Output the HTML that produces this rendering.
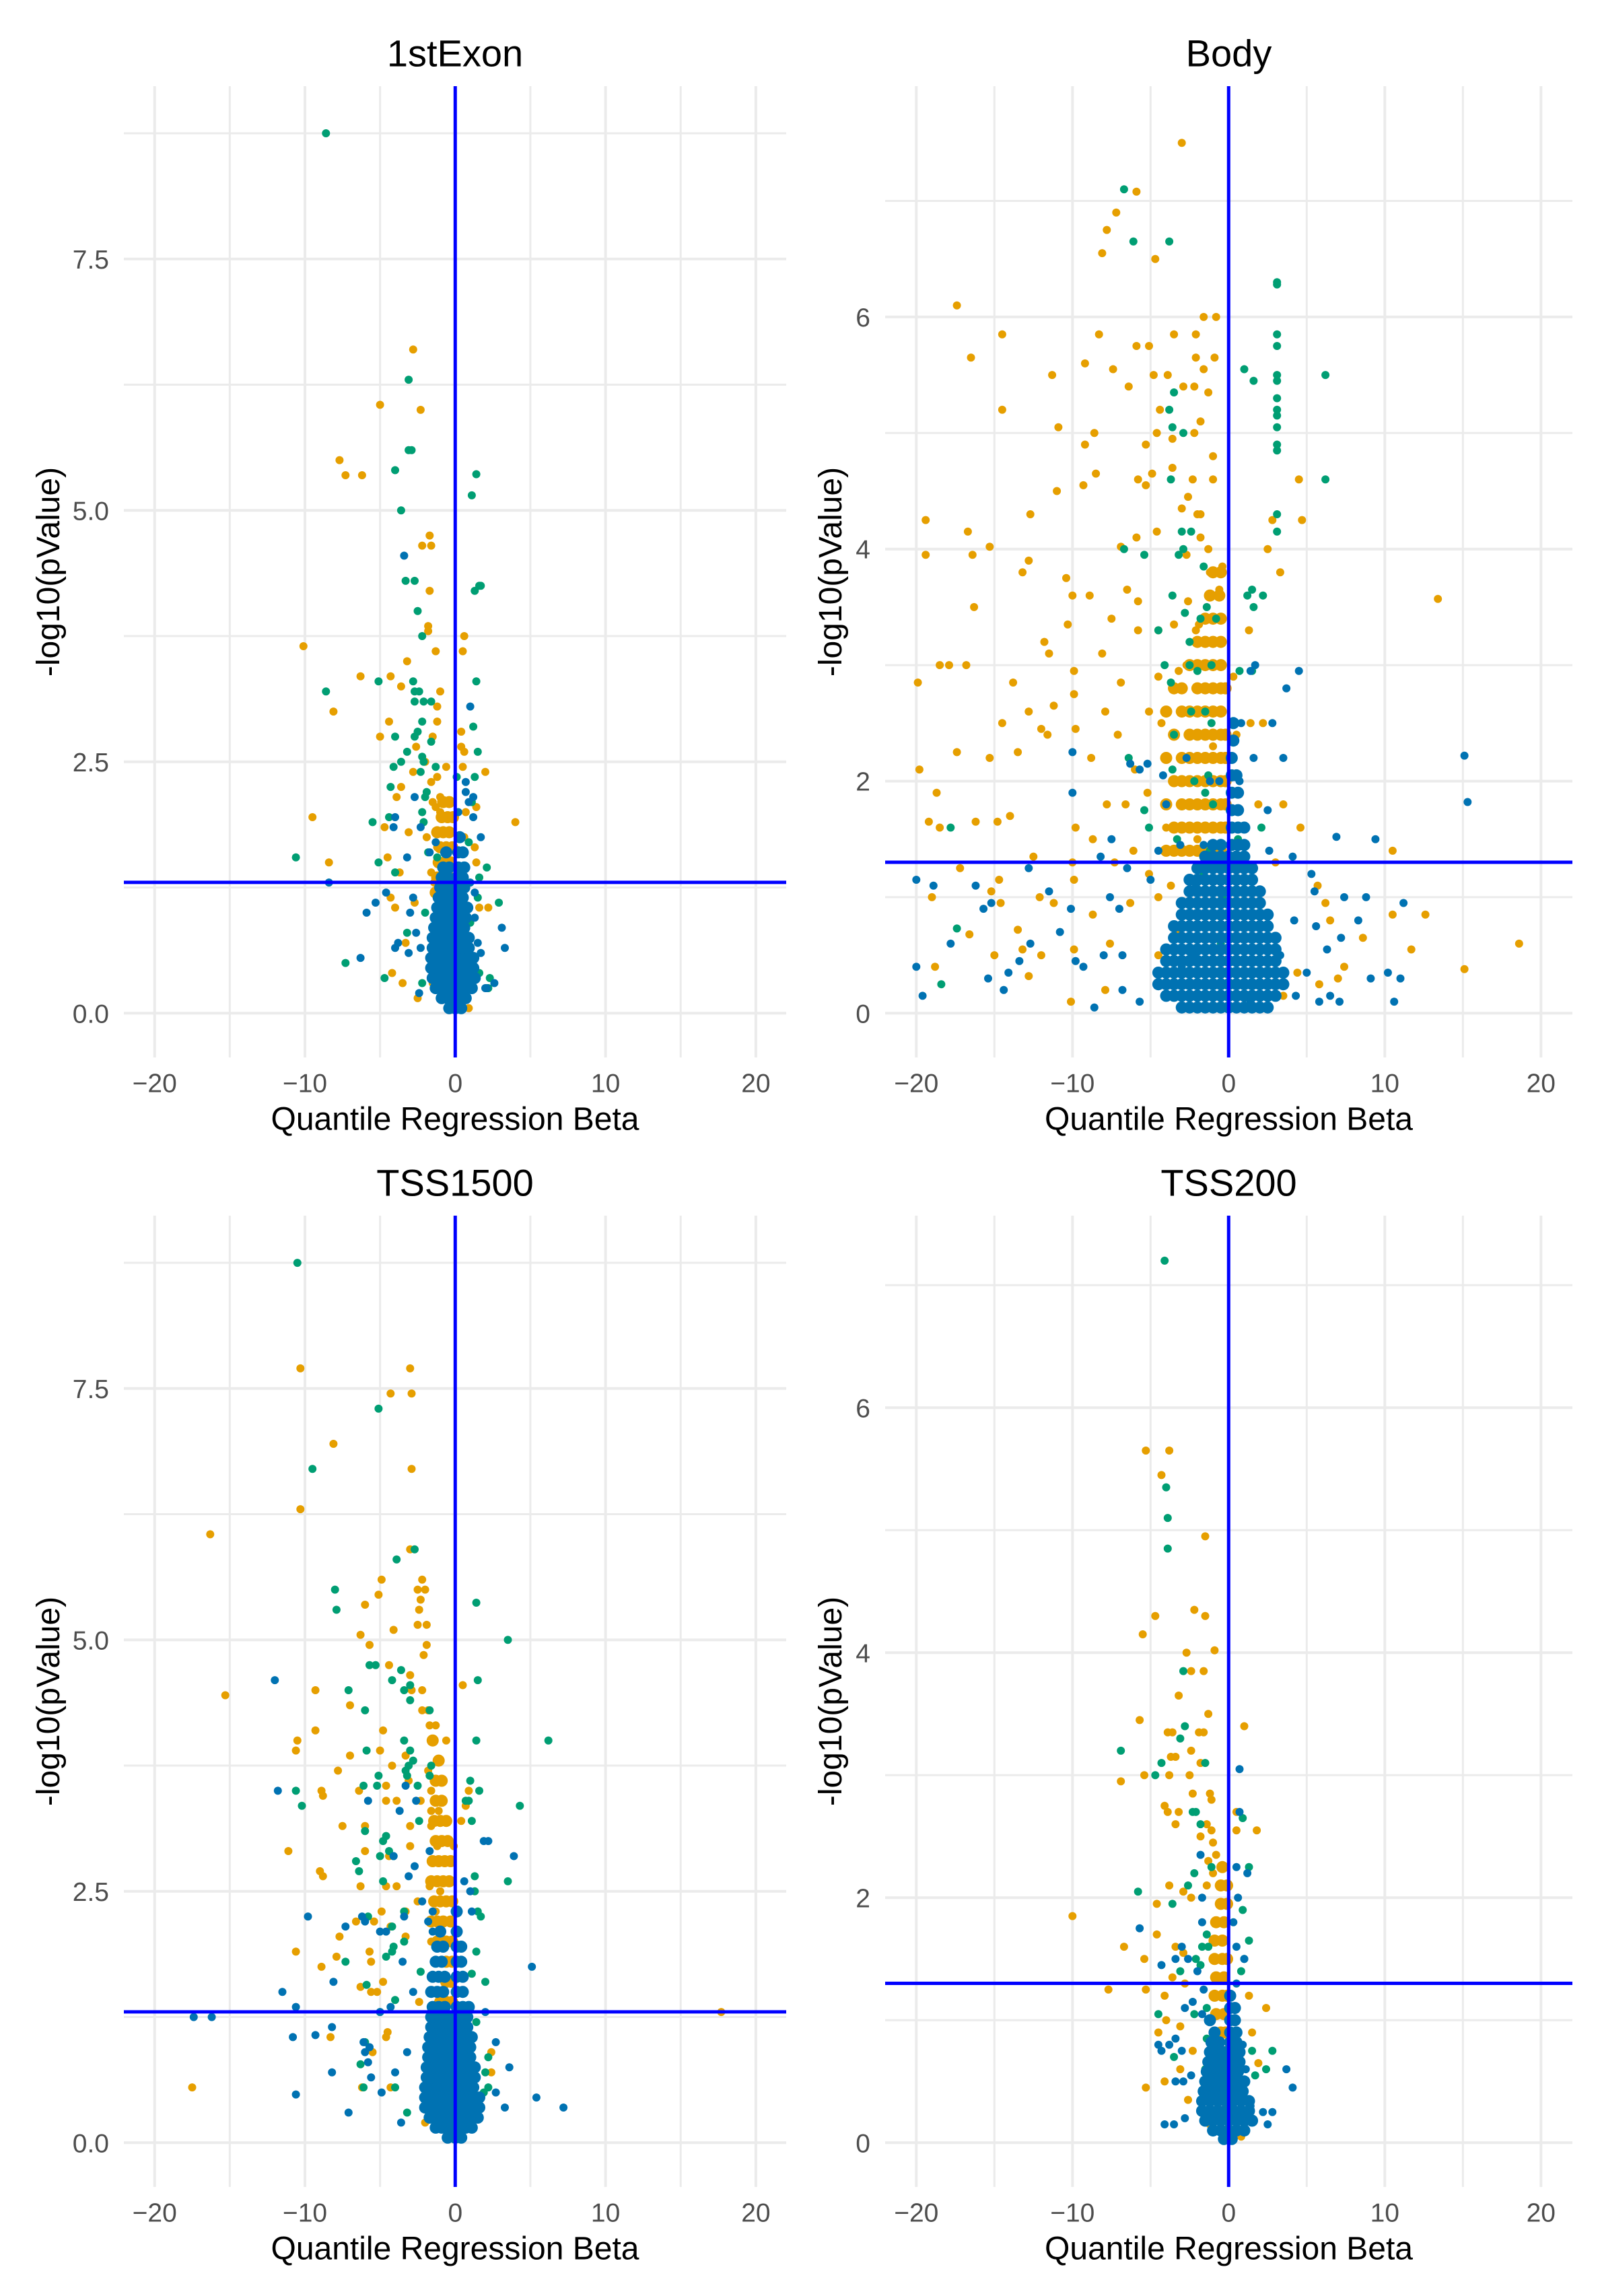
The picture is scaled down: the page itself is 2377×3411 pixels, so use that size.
<!DOCTYPE html>
<html><head><meta charset="utf-8">
<style>
html,body{margin:0;padding:0;background:#fff;}
svg{display:block;font-family:"Liberation Sans",Arial,sans-serif;}
</style></head>
<body>
<svg id="chart" width="2377" height="3411" viewBox="0 0 2377 3411" xmlns="http://www.w3.org/2000/svg">
<rect x="0" y="0" width="2377" height="3411" fill="#ffffff"/>
</svg>
<script>
// ---------------- data: [beta, -log10(p)] ----------------
const xTicks = [-20, -10, 0, 10, 20];
const xTickLabels = ["\u221220", "\u221210", "0", "10", "20"];
const xMinor = [-15, -5, 5, 15];
const yTicksA = [0, 2.5, 5, 7.5];
const yTickLabelsA = ["0.0", "2.5", "5.0", "7.5"];
const yMinorA = [1.25, 3.75, 6.25, 8.75];
const yTicksB = [0, 2, 4, 6];
const yTickLabelsB = ["0", "2", "4", "6"];
const yMinorB = [1, 3, 5, 7];
const pThreshold = 1.301;

// ---- 1stExon ----
const exonOrange = [[-2.8,6.6],[-5.0,6.05],[-2.3,6.0],[-7.7,5.5],[-7.3,5.35],[-6.2,5.35],[-1.7,4.75],[-2.2,4.65],[-1.6,4.65],[-1.7,4.2],[-1.8,3.85],[-1.8,3.8],[0.6,3.75],[0.5,3.6],[-1.3,3.6],[-3.2,3.5],[-10.1,3.65],[-6.3,3.35],[-4.3,3.35],[-3.6,3.25],[-1.0,3.2],[-1.2,3.05],[-8.1,3.0],[-4.4,2.9],[-1.2,2.9],[-5.0,2.75],[0.4,2.8],[0.4,2.65],[0.6,2.6],[-2.6,2.65],[-1.5,2.75],[-2.0,2.5],[0.5,2.45],[-0.6,2.45],[2.0,2.4],[-2.8,2.4],[-1.2,2.35],[-1.6,2.3],[-3.9,2.15],[-3.6,2.25],[-1.5,2.1],[-1.3,2.05],[-1.0,2.0],[-1.0,2.15],[0.7,2.0],[1.4,2.05],[-9.5,1.95],[4.0,1.9],[-4.7,1.85],[-3.1,1.8],[-1.9,1.75],[-1.2,1.65],[0.6,1.75],[-4.5,1.55],[-8.4,1.5],[-3.7,1.4],[-1.6,1.4],[-1.4,1.3],[-4.3,1.15],[-4.0,1.05],[-2.7,1.1],[1.6,1.05],[2.2,1.05],[-3.3,0.7],[-4.2,0.4],[-3.5,0.3],[-2.5,0.15],[0.9,0.05],[-1.5,0.3],[1.3,1.65],[1.4,1.5]];
const exonOrangeCore = [[-1.3,1.2],[-0.9,1.2],[-0.5,1.2],[-0.15,1.2],[-1.2,1.35],[-0.8,1.35],[-0.4,1.35],[-1.1,1.5],[-0.7,1.5],[-0.3,1.5],[-1.0,1.65],[-0.6,1.65],[-0.2,1.65],[-1.2,1.8],[-0.8,1.8],[-0.4,1.8],[-0.9,1.95],[-0.5,1.95],[-0.15,1.95],[-0.8,2.1],[-0.4,2.1]];
const exonGreen = [[-8.6,8.75],[-3.1,6.3],[-3.1,5.6],[-2.9,5.6],[-4.0,5.4],[1.4,5.36],[1.1,5.15],[-3.6,5.0],[-3.3,4.3],[-2.7,4.3],[1.3,4.2],[1.6,4.25],[1.7,4.25],[-2.5,4.0],[-2.2,3.75],[-5.1,3.3],[-8.6,3.2],[-2.8,3.3],[-2.7,3.2],[-2.4,3.2],[-2.7,3.1],[-2.1,3.1],[-1.6,3.1],[1.4,3.3],[1.2,2.85],[-2.2,2.9],[-2.5,2.8],[-2.7,2.75],[-4.0,2.75],[-1.6,2.7],[-2.2,2.55],[-3.2,2.6],[-2.1,2.5],[-1.3,2.45],[-3.6,2.5],[-4.1,2.45],[-2.3,2.4],[1.5,2.6],[0.1,2.35],[1.3,2.35],[-4.3,2.25],[-1.9,2.2],[-2.0,2.15],[-2.2,2.0],[-2.1,1.9],[-4.4,1.95],[-5.5,1.9],[-10.6,1.55],[-5.1,1.5],[-4.0,1.4],[1.1,2.1],[0.9,1.7],[2.1,1.45],[1.6,1.35],[1.5,1.15],[2.9,1.1],[-1.2,1.55],[-1.8,1.6],[-7.3,0.5],[-4.7,0.35],[-2.2,0.3],[1.3,0.55],[1.6,0.4],[2.2,0.25],[1.0,0.9],[-1.0,1.25],[-2.0,1.0],[-3.2,0.8],[2.3,0.35]];
const exonBlueCore = [[-0.4,0.05],[0,0.05],[0.4,0.05],[-0.9,0.15],[-0.5,0.15],[-0.1,0.15],[0.3,0.15],[0.7,0.15],[-1.3,0.25],[-0.9,0.25],[-0.5,0.25],[-0.1,0.25],[0.3,0.25],[0.7,0.25],[1.1,0.25],[-1.5,0.35],[-1.1,0.35],[-0.7,0.35],[-0.3,0.35],[0.1,0.35],[0.5,0.35],[0.9,0.35],[1.3,0.35],[-1.6,0.45],[-1.2,0.45],[-0.8,0.45],[-0.4,0.45],[0,0.45],[0.4,0.45],[0.8,0.45],[1.2,0.45],[-1.6,0.55],[-1.2,0.55],[-0.8,0.55],[-0.4,0.55],[0,0.55],[0.4,0.55],[0.8,0.55],[1.2,0.55],[-1.5,0.65],[-1.1,0.65],[-0.7,0.65],[-0.3,0.65],[0.1,0.65],[0.5,0.65],[0.9,0.65],[-1.5,0.75],[-1.1,0.75],[-0.7,0.75],[-0.3,0.75],[0.1,0.75],[0.5,0.75],[0.9,0.75],[-1.4,0.85],[-1.0,0.85],[-0.6,0.85],[-0.2,0.85],[0.2,0.85],[0.6,0.85],[-1.3,0.95],[-0.9,0.95],[-0.5,0.95],[-0.1,0.95],[0.3,0.95],[0.7,0.95],[-1.2,1.05],[-0.8,1.05],[-0.4,1.05],[0,1.05],[0.4,1.05],[0.8,1.05],[-1.1,1.15],[-0.7,1.15],[-0.3,1.15],[0.1,1.15],[0.5,1.15],[-1.0,1.25],[-0.6,1.25],[-0.2,1.25],[0.2,1.25],[0.6,1.25],[-0.9,1.35],[-0.5,1.35],[0.1,1.35],[0.5,1.35],[-0.8,1.45],[-0.4,1.45],[0.2,1.45],[0.6,1.45],[-0.6,1.6],[0.2,1.6],[0.5,1.6],[0.3,1.75]];
const exonBlue = [[-3.4,4.55],[1.0,3.05],[1.2,2.15],[0.9,2.1],[1.2,1.95],[0.7,2.3],[0.7,2.2],[0.2,2.0],[1.7,1.75],[-2.7,2.15],[-4.0,1.95],[-4.1,1.85],[-2.3,1.85],[-1.7,1.6],[-1.3,1.7],[-3.2,1.55],[-8.4,1.3],[-4.6,1.2],[-2.8,1.15],[-5.3,1.1],[-5.9,1.0],[-3.0,1.0],[-2.6,0.8],[-3.8,0.7],[-6.3,0.55],[-4.0,0.65],[-3.1,0.6],[-2.3,0.65],[3.1,0.85],[3.3,0.65],[2.6,0.3],[2.1,0.25],[1.7,0.6],[1.5,0.7],[2.0,0.25],[-2.4,0.2],[1.3,0.95],[1.0,1.3],[1.3,1.2]];

// ---- Body ----
const bodyOrange = [[-3,7.5],[-5.9,7.08],[-7.2,6.9],[-7.8,6.75],[-8.1,6.55],[-4.7,6.5],[-17.4,6.1],[-14.5,5.85],[-16.5,5.65],[-11.3,5.5],[-14.5,5.2],[-10.9,5.05],[-8.3,5.85],[-3.5,5.85],[-2.1,5.85],[-5.9,5.75],[-5.1,5.75],[-2.1,5.65],[-9.2,5.6],[-7.4,5.55],[-4.8,5.5],[-6.4,5.4],[-3.9,5.5],[-2.2,5.4],[-4.4,5.2],[-1.6,5.55],[-2.2,5.0],[-5.3,4.9],[-4.6,5.0],[-8.6,5.0],[-9.2,4.9],[-3.6,4.95],[-3.6,4.7],[-3,4.35],[-4.9,4.65],[-2.6,4.45],[-5.3,4.55],[-2,4.3],[-1.8,4.3],[-1.8,4.1],[-1.3,4.0],[-5.9,4.1],[-5.8,4.6],[-8.5,4.65],[-9.3,4.55],[-11,4.5],[-12.7,4.3],[-16.7,4.15],[-16.4,3.95],[-19.4,4.25],[-19.4,3.95],[-15.3,4.02],[-13.2,3.8],[-12.8,3.9],[-10.4,3.75],[-6.9,4.02],[-4.6,4.15],[-2.7,3.95],[-1.2,3.8],[-0.4,3.85],[-8.9,3.6],[-6.5,3.65],[-2.6,3.55],[-1.9,3.35],[-0.6,3.65],[13.4,3.57],[-16.3,3.5],[-10,3.6],[-10.3,3.35],[-7.5,3.4],[-5.8,3.3],[-4.5,3.3],[-3.5,3.35],[-2.1,3.3],[-1.2,3.4],[-11.5,3.1],[-11.8,3.2],[-9.9,2.95],[-8.1,3.1],[-4.5,2.9],[-3.2,2.95],[-1.5,3.0],[-2.7,3.0],[-2.0,2.8],[-0.6,2.8],[0.3,2.9],[-17.9,3.0],[-18.5,3.0],[-16.8,3.0],[-19.9,2.85],[-13.8,2.85],[-12.8,2.6],[-9.9,2.75],[-7.9,2.6],[-6.9,2.85],[-5.1,2.6],[-7.1,2.4],[-9.8,2.45],[-11.6,2.4],[-13.5,2.25],[-14.5,2.5],[-15.3,2.2],[-17.4,2.25],[-16.2,1.65],[-18.7,1.9],[-19.2,1.65],[-18.5,1.6],[-17.2,1.25],[-14.8,1.65],[-14,1.7],[-12.5,1.35],[-9.8,1.6],[-9.9,1.15],[-8.7,1.5],[-7.8,1.8],[-6.6,1.8],[-6.1,1.4],[-5.2,1.9],[-3.2,2.0],[-5.1,1.2],[-7.3,1.3],[-10,1.3],[-14.7,1.15],[-15.2,1.05],[-16.6,0.68],[-13.5,0.72],[-8.7,0.85],[-6.3,0.95],[-7.6,0.6],[-9.9,0.55],[-15,0.5],[-12,0.5],[-10.1,0.1],[-12.8,0.32],[-7.9,0.2],[-4.5,0.5],[-3.2,0.7],[-1,2.3],[-0.8,2.6],[-0.3,2.2],[0.3,2.2],[0.5,2.4],[2.2,2.5],[1.4,2.5],[1.9,1.8],[3.5,1.8],[4.6,1.6],[3,1.3],[5.7,1.1],[6.2,0.95],[6.5,0.8],[10.5,1.4],[10.5,0.85],[8.6,0.65],[12.6,0.85],[11.7,0.55],[15.1,0.38],[18.6,0.6],[7.4,0.4],[7,0.3],[5.8,0.25],[3.5,0.15],[4.4,0.35],[3.3,3.8],[2.8,4.25],[4.5,4.6],[4.7,4.25],[1.3,3.3],[2.5,4.0],[-1.6,6.0],[-0.8,6.0],[-0.9,5.65],[-1.8,5.1],[-1,4.8],[-1,4.6],[-2.3,4.6],[-2.9,5.4],[-1.3,5.35],[-5.8,3.55],[-3.4,2.4],[-4.3,2.5],[-6,2.1],[-8.8,2.2],[-2,1.5],[-4,1.6],[-4.5,1.0],[-3.7,1.1],[-11.2,0.95],[-12.1,1.0],[-13.2,0.55],[-14.6,0.95],[-19,1.0],[-18.8,0.4],[-19.8,2.1],[-11.2,2.65],[-12,2.45]];
const bodyOrangeCore = [[-4,1.4],[-3.5,1.4],[-3,1.4],[-2.5,1.4],[-2,1.4],[-1.5,1.4],[-1,1.4],[-0.5,1.4],[-3.5,1.6],[-3,1.6],[-2.5,1.6],[-2,1.6],[-1.5,1.6],[-1,1.6],[-0.5,1.6],[-0.2,1.6],[-4,1.8],[-3,1.8],[-2.5,1.8],[-2,1.8],[-1.5,1.8],[-1,1.8],[-0.5,1.8],[-0.2,1.8],[-3.5,2.0],[-3,2.0],[-2.5,2.0],[-2,2.0],[-1.5,2.0],[-1,2.0],[-0.5,2.0],[-0.2,2.0],[-4,2.2],[-3,2.2],[-2.5,2.2],[-2,2.2],[-1.5,2.2],[-1,2.2],[-0.5,2.2],[-0.2,2.2],[-3.5,2.4],[-2.5,2.4],[-2,2.4],[-1.5,2.4],[-1,2.4],[-0.5,2.4],[-0.2,2.4],[-4,2.6],[-3,2.6],[-2.5,2.6],[-2,2.6],[-1.5,2.6],[-1,2.6],[-0.5,2.6],[-3.5,2.8],[-3,2.8],[-2,2.8],[-1.5,2.8],[-1,2.8],[-0.5,2.8],[-0.2,2.8],[-2.5,3.0],[-2,3.0],[-1.5,3.0],[-1,3.0],[-0.5,3.0],[-2,3.2],[-1.5,3.2],[-1,3.2],[-0.5,3.2],[-1.5,3.4],[-1,3.4],[-0.5,3.4],[-1.2,3.6],[-0.6,3.6],[-1,3.8],[-0.5,3.8]];
const bodyGreen = [[-6.7,7.1],[-6.1,6.65],[-3.8,6.65],[3.1,6.3],[3.1,6.28],[3.1,5.85],[3.1,5.75],[1.0,5.55],[1.6,5.45],[3.1,5.5],[3.1,5.45],[6.2,5.5],[3.1,5.3],[3.1,5.2],[3.1,5.15],[3.1,5.05],[3.1,4.9],[3.1,4.85],[6.2,4.6],[3.1,4.3],[3.1,4.15],[-3.5,5.35],[-3.8,5.2],[-3.6,5.05],[-2.9,5.0],[-3.7,4.6],[-3,4.15],[-2.9,4.0],[-6.7,4.0],[-5.4,3.95],[-3.2,3.95],[-2.4,4.15],[-1.6,3.85],[-3.6,3.6],[-2.8,3.45],[-1.8,3.4],[-0.8,3.4],[1.5,3.65],[1.2,3.6],[2.2,3.6],[1.6,3.5],[-1.4,3.5],[-4.5,3.3],[-2.5,3.2],[-2.5,3.0],[-4.1,3.0],[-1.1,3.0],[0.7,2.95],[1.5,2.95],[-3.7,2.85],[-2,2.95],[-1.5,2.6],[-1.1,2.5],[-2.4,2.6],[-3.5,2.4],[-1.3,2.05],[-1.5,1.9],[-6.4,2.2],[-3.6,2.1],[-1.0,1.8],[-5.4,1.75],[-5.1,1.6],[-3.3,1.5],[-1.6,1.2],[-2.2,2.0],[-17.4,0.73],[-17.8,1.6],[2.1,1.6],[-18.4,0.25],[0.6,1.5],[-1.2,1.4],[-0.4,1.0],[-0.5,0.6]];
const bodyBlueCore = [[-3,0.05],[-2.5,0.05],[-2,0.05],[-1.5,0.05],[-1,0.05],[-0.5,0.05],[0,0.05],[0.5,0.05],[1,0.05],[1.5,0.05],[2,0.05],[2.5,0.05],[-4,0.15],[-3.5,0.15],[-3,0.15],[-2.5,0.15],[-2,0.15],[-1.5,0.15],[-1,0.15],[-0.5,0.15],[0,0.15],[0.5,0.15],[1,0.15],[1.5,0.15],[2,0.15],[2.5,0.15],[3,0.15],[-4.5,0.25],[-4,0.25],[-3.5,0.25],[-3,0.25],[-2.5,0.25],[-2,0.25],[-1.5,0.25],[-1,0.25],[-0.5,0.25],[0,0.25],[0.5,0.25],[1,0.25],[1.5,0.25],[2,0.25],[2.5,0.25],[3,0.25],[3.5,0.25],[-4.5,0.35],[-4,0.35],[-3.5,0.35],[-3,0.35],[-2.5,0.35],[-2,0.35],[-1.5,0.35],[-1,0.35],[-0.5,0.35],[0,0.35],[0.5,0.35],[1,0.35],[1.5,0.35],[2,0.35],[2.5,0.35],[3,0.35],[3.5,0.35],[-4,0.45],[-3.5,0.45],[-3,0.45],[-2.5,0.45],[-2,0.45],[-1.5,0.45],[-1,0.45],[-0.5,0.45],[0,0.45],[0.5,0.45],[1,0.45],[1.5,0.45],[2,0.45],[2.5,0.45],[3,0.45],[-4,0.55],[-3.5,0.55],[-3,0.55],[-2.5,0.55],[-2,0.55],[-1.5,0.55],[-1,0.55],[-0.5,0.55],[0,0.55],[0.5,0.55],[1,0.55],[1.5,0.55],[2,0.55],[2.5,0.55],[3,0.55],[-3.5,0.65],[-3,0.65],[-2.5,0.65],[-2,0.65],[-1.5,0.65],[-1,0.65],[-0.5,0.65],[0,0.65],[0.5,0.65],[1,0.65],[1.5,0.65],[2,0.65],[2.5,0.65],[3,0.65],[-3.5,0.75],[-3,0.75],[-2.5,0.75],[-2,0.75],[-1.5,0.75],[-1,0.75],[-0.5,0.75],[0,0.75],[0.5,0.75],[1,0.75],[1.5,0.75],[2,0.75],[2.5,0.75],[-3,0.85],[-2.5,0.85],[-2,0.85],[-1.5,0.85],[-1,0.85],[-0.5,0.85],[0,0.85],[0.5,0.85],[1,0.85],[1.5,0.85],[2,0.85],[2.5,0.85],[-3,0.95],[-2.5,0.95],[-2,0.95],[-1.5,0.95],[-1,0.95],[-0.5,0.95],[0,0.95],[0.5,0.95],[1,0.95],[1.5,0.95],[2,0.95],[-2.5,1.05],[-2,1.05],[-1.5,1.05],[-1,1.05],[-0.5,1.05],[0,1.05],[0.5,1.05],[1,1.05],[1.5,1.05],[2,1.05],[-2.5,1.15],[-2,1.15],[-1.5,1.15],[-1,1.15],[-0.5,1.15],[0,1.15],[0.5,1.15],[1,1.15],[1.5,1.15],[-2,1.25],[-1.5,1.25],[-1,1.25],[-0.5,1.25],[0,1.25],[0.5,1.25],[1,1.25],[1.5,1.25],[-1.5,1.35],[-1,1.35],[-0.5,1.35],[0,1.35],[0.5,1.35],[1,1.35],[-1,1.45],[-0.5,1.45],[0.2,1.45],[0.6,1.45],[1,1.45],[0.2,1.6],[0.6,1.6],[1,1.6],[0.2,1.75],[0.6,1.75],[0.2,1.9],[0.6,1.9],[0.2,2.05],[0.5,2.05],[0.2,2.2],[0.3,2.35],[0.3,2.5]];
const bodyBlue = [[-20,1.15],[-20,0.4],[-19.6,0.15],[-18.9,1.1],[-17.8,0.6],[-16.2,1.1],[-15.4,0.3],[-15.7,0.9],[-15.2,0.95],[-14.4,0.2],[-14.1,0.35],[-13.4,0.45],[-12.8,1.25],[-12.7,0.6],[-11.5,1.05],[-10.8,0.7],[-10.1,0.9],[-10.0,1.9],[-10,2.25],[-9.8,0.45],[-9.3,0.4],[-8.6,0.05],[-8.2,1.35],[-8,0.5],[-7.5,1.5],[-7.6,1.0],[-7,0.9],[-6.8,0.5],[-6.5,1.25],[-6.3,2.15],[-5.7,2.1],[-5.2,2.15],[-5,1.15],[-4.5,1.4],[-4.2,2.05],[-4,1.8],[-3.1,1.45],[-2.7,2.2],[-2.1,1.1],[-1.6,1.45],[-1.2,2.0],[1.4,2.95],[1.7,3.0],[4.5,2.95],[3.7,2.8],[2.8,2.5],[3.5,2.2],[4.1,1.35],[5.3,1.2],[6.9,1.52],[5.6,0.75],[5.5,1.05],[4.2,0.8],[7.2,0.65],[7.4,1.0],[8.3,0.8],[9.4,1.5],[8.8,1.0],[9.1,0.3],[10.6,0.1],[11,0.3],[10.2,0.35],[11.2,0.95],[15.1,2.22],[15.3,1.82],[6.3,0.55],[5,0.35],[4.3,0.15],[6.5,0.15],[7.1,0.1],[5.8,0.1],[0.8,2.5],[1.6,2.2],[2.5,1.75],[2.6,1.4],[0.7,2.0],[-0.6,2.0],[-3,0.4],[-2.2,0.5],[-4.1,0.25],[-5.7,0.1],[-6.8,0.2],[-2.5,0.15],[3.3,0.5],[2.5,0.55],[1.4,0.1]];

// ---- TSS1500 ----
const tss1500Orange = [[-10.3,7.7],[-3,7.7],[-4.3,7.45],[-2.9,7.45],[-8.1,6.95],[-2.9,6.7],[-10.3,6.3],[-16.3,6.05],[-3.0,5.9],[-2.2,5.6],[-4.9,5.6],[-5.1,5.45],[-2.5,5.5],[-2.0,5.5],[-2.3,5.4],[-2.4,5.3],[-6.0,5.35],[-2.5,5.15],[-1.9,5.15],[-4.1,5.1],[-6.3,5.05],[-5.7,4.95],[-1.9,4.95],[-2.1,4.85],[-4.4,4.75],[-3,4.65],[-2.9,4.5],[-2.2,4.5],[0.5,4.55],[-9.3,4.5],[-15.3,4.45],[-7.0,4.35],[-2.2,4.3],[-1.8,4.3],[-1.7,4.15],[-1.3,4.15],[-4.8,4.1],[-9.3,4.1],[-10.5,4.0],[-10.6,3.9],[-5,3.9],[-7.0,3.85],[-4.2,3.75],[-3.3,3.85],[-0.6,4.0],[-3.1,3.6],[-7.8,3.7],[-1.8,3.7],[-1.6,3.5],[-4.6,3.55],[-8.9,3.5],[-8.8,3.45],[-6.4,3.5],[-4.6,3.4],[-3.9,3.4],[-2.3,3.4],[-1.6,3.3],[-1.1,3.3],[0.9,3.5],[0.7,3.35],[0.4,3.2],[-7.5,3.15],[-6.0,3.15],[-3,3.15],[-1.6,3.15],[-6.0,2.9],[-11.1,2.9],[-4.4,2.85],[-3,2.95],[-1.2,2.95],[-0.1,2.95],[-9.0,2.7],[-8.8,2.65],[-6.3,2.55],[-4.6,2.55],[-3.9,2.55],[-1.7,2.55],[-2.5,2.4],[-1.0,2.5],[-4.9,2.3],[-3.3,2.3],[-1.3,2.3],[-5.4,2.2],[-6.6,2.2],[-4.3,2.15],[-3.3,2.05],[-1.6,2.0],[-7.7,2.05],[-10.6,1.9],[-7.9,1.85],[-8.9,1.75],[-5.7,1.9],[-5.6,1.8],[-4.8,1.6],[-5.6,1.5],[-6.3,1.55],[-2.4,1.4],[-5.2,1.5],[-4.5,1.1],[-5.5,0.9],[-4.6,1.05],[-8.3,1.05],[-6.2,0.55],[-4.3,0.55],[-17.5,0.55],[0.3,0.55],[-2,0.2],[-1.2,0.3],[2.4,0.9],[2.4,0.7],[17.7,1.3],[0.5,0.85],[1.1,0.25]];
const tss1500OrangeCore = [[-1,1.4],[-0.6,1.4],[-0.2,1.4],[-0.6,1.6],[-0.25,1.6],[-0.6,1.8],[-0.2,1.8],[-1.2,2.0],[-0.6,2.0],[-0.2,2.0],[-1.6,2.2],[-1.2,2.2],[-0.8,2.2],[-0.3,2.2],[-1.4,2.4],[-1,2.4],[-0.6,2.4],[-0.2,2.4],[-1.6,2.6],[-1.2,2.6],[-0.8,2.6],[-0.4,2.6],[-1.5,2.8],[-1.1,2.8],[-0.7,2.8],[-0.3,2.8],[-1.3,3.0],[-0.9,3.0],[-0.5,3.0],[-1.4,3.2],[-1,3.2],[-0.6,3.2],[-1.3,3.4],[-0.9,3.4],[-1.3,3.6],[-0.9,3.6],[-1.1,3.8],[-1.5,4.0]];
const tss1500Green = [[-10.5,8.75],[-5.1,7.3],[-9.5,6.7],[-2.7,5.9],[-3.9,5.8],[-8.0,5.5],[-7.9,5.3],[1.4,5.37],[3.5,5.0],[-5.3,4.75],[-5.7,4.75],[-7.1,4.5],[-3.6,4.7],[-4.2,4.6],[-3.0,4.55],[-3.4,4.5],[-6.0,4.3],[1.5,4.6],[-3.0,4.4],[-1.7,4.3],[-3.4,4.0],[-3,3.9],[-2.8,3.8],[-3.3,3.7],[-5.9,3.9],[1.4,4.0],[6.2,4.0],[-6.1,3.55],[-5.2,3.55],[-5.1,3.65],[-1.6,3.75],[-1.7,3.65],[-3.1,3.75],[-3.2,3.65],[-2.5,3.55],[-10.6,3.5],[-10.2,3.35],[1.0,3.6],[1.6,3.5],[0.7,3.4],[0.9,3.4],[4.3,3.35],[1.1,3.2],[-4.8,3.0],[-4.6,3.05],[-6,3.1],[-2.4,3.2],[-5,2.85],[-4.4,2.9],[-4.1,2.85],[-6.6,2.8],[-6.4,2.7],[1.3,2.5],[1.3,2.65],[3.5,2.6],[1.5,2.3],[1.7,2.25],[-4.8,2.6],[-3.4,2.3],[-4.2,2.15],[-5.8,2.25],[-3.4,2.0],[-4.6,1.85],[-4.2,1.9],[-7.3,1.8],[-4.1,1.95],[-5.9,1.57],[-2.3,1.7],[1.4,1.9],[1.1,1.68],[2.0,1.6],[-4.0,1.42],[-5.0,1.3],[-6.0,1.0],[-6.3,0.78],[-6.1,0.55],[-4.0,0.55],[-3.2,0.3],[2.2,0.85],[2.0,0.7],[2.2,0.55],[1.9,0.5],[1.4,1.2]];
const tss1500BlueCore = [[-0.5,0.05],[0,0.05],[0.4,0.05],[-1.3,0.15],[-0.9,0.15],[-0.5,0.15],[-0.1,0.15],[0.3,0.15],[0.7,0.15],[1.1,0.15],[-1.7,0.25],[-1.3,0.25],[-0.9,0.25],[-0.5,0.25],[-0.1,0.25],[0.3,0.25],[0.7,0.25],[1.1,0.25],[1.5,0.25],[-2,0.35],[-1.6,0.35],[-1.2,0.35],[-0.8,0.35],[-0.4,0.35],[0,0.35],[0.4,0.35],[0.8,0.35],[1.2,0.35],[1.6,0.35],[-2,0.45],[-1.6,0.45],[-1.2,0.45],[-0.8,0.45],[-0.4,0.45],[0,0.45],[0.4,0.45],[0.8,0.45],[1.2,0.45],[1.6,0.45],[-2,0.55],[-1.6,0.55],[-1.2,0.55],[-0.8,0.55],[-0.4,0.55],[0,0.55],[0.4,0.55],[0.8,0.55],[1.2,0.55],[-1.9,0.65],[-1.5,0.65],[-1.1,0.65],[-0.7,0.65],[-0.3,0.65],[0.1,0.65],[0.5,0.65],[0.9,0.65],[1.3,0.65],[-1.9,0.75],[-1.5,0.75],[-1.1,0.75],[-0.7,0.75],[-0.3,0.75],[0.1,0.75],[0.5,0.75],[0.9,0.75],[1.3,0.75],[-1.8,0.85],[-1.4,0.85],[-1,0.85],[-0.6,0.85],[-0.2,0.85],[0.2,0.85],[0.6,0.85],[1,0.85],[-1.8,0.95],[-1.4,0.95],[-1,0.95],[-0.6,0.95],[-0.2,0.95],[0.2,0.95],[0.6,0.95],[1,0.95],[-1.7,1.05],[-1.3,1.05],[-0.9,1.05],[-0.5,1.05],[-0.1,1.05],[0.3,1.05],[0.7,1.05],[1.1,1.05],[-1.6,1.15],[-1.2,1.15],[-0.8,1.15],[-0.4,1.15],[0,1.15],[0.4,1.15],[0.8,1.15],[-1.6,1.25],[-1.2,1.25],[-0.8,1.25],[-0.4,1.25],[0,1.25],[0.4,1.25],[0.8,1.25],[-1.5,1.35],[-1.1,1.35],[-0.7,1.35],[0.1,1.35],[0.5,1.35],[0.9,1.35],[-1.6,1.5],[-1.2,1.5],[-0.8,1.5],[0.1,1.5],[0.5,1.5],[-1.5,1.65],[-1.1,1.65],[-0.7,1.65],[0.1,1.65],[0.5,1.65],[-1.3,1.8],[-0.9,1.8],[0.1,1.8],[0.4,1.8],[-1.2,1.95],[-0.8,1.95],[0.1,1.95],[0.4,1.95],[-1,2.1],[0.1,2.1],[0.1,2.3]];
const tss1500Blue = [[-12,4.6],[-11.8,3.5],[-5.8,3.4],[-3.3,3.55],[-3.7,3.3],[-4.1,2.85],[-9.8,2.25],[-7.3,2.15],[-6.2,2.25],[-6.0,2.2],[-5,2.1],[-4.6,2.1],[-3.4,2.25],[-8.1,1.6],[-11.5,1.5],[-10.6,1.35],[-17.4,1.25],[-16.2,1.25],[-10.8,1.05],[-9.3,1.07],[-8.2,1.15],[-6.1,1.0],[-6,0.9],[-5.7,0.95],[-5.8,0.8],[-5.6,0.65],[-8.2,0.7],[-10.6,0.48],[-7.1,0.3],[-4.9,0.5],[-3.6,0.2],[-4,0.7],[-3.2,0.9],[5.1,1.75],[3.9,2.85],[2.2,3.0],[1.9,3.0],[3.6,0.75],[5.4,0.45],[7.2,0.35],[3.3,0.35],[2.7,0.5],[2.7,1.0],[2.0,1.3],[1.0,2.5],[1.1,2.3],[0.6,2.6],[-2.6,3.4],[-1.7,2.9],[-2.7,2.75],[-3.1,2.65],[-2.2,2.4],[-1.5,2.3],[-1.5,2.1],[-1.8,2.2],[-2.8,1.5],[-3.5,1.8],[-4.3,1.35],[-5,1.3]];

// ---- TSS200 ----
const tss200Orange = [[-5.3,5.65],[-3.8,5.65],[-4.3,5.45],[-1.5,4.95],[-2.2,4.35],[-1.5,4.3],[-5.5,4.15],[-4.7,4.3],[-2.7,4.0],[-0.9,4.02],[-2.4,3.85],[-1.6,3.85],[-3.2,3.65],[-1.3,3.5],[-5.7,3.45],[-3.6,3.35],[-3.9,3.35],[1.0,3.4],[-1.9,3.35],[-1.6,3.35],[-3.7,3.15],[-3.4,3.15],[-2.4,3.2],[-1.8,3.1],[-2.5,3.0],[-3.8,3.0],[-5.4,3.0],[-6.9,2.95],[-2.3,2.85],[-1.2,2.85],[-1.1,2.8],[-4.1,2.75],[-3.9,2.7],[-3.4,2.6],[-3.2,2.7],[-1.4,2.6],[-1.1,2.55],[0.5,2.7],[0.5,2.55],[1.8,2.55],[-1.0,2.45],[-1.8,2.5],[-0.8,2.35],[-1.3,2.3],[-1.4,2.1],[-1.0,2.2],[-2.9,2.05],[-3.8,2.1],[-4.6,1.95],[-2.4,2.0],[-10,1.85],[-6.7,1.6],[-5.4,1.5],[-4.6,1.7],[-3.4,1.6],[-2.9,1.55],[-7.7,1.25],[-5.3,1.25],[-4.1,1.2],[-3.6,1.35],[-2.8,1.3],[-4.0,1.0],[-3.1,0.95],[-2.3,0.75],[-4.5,0.9],[-3.1,0.6],[-5.3,0.45],[-4.1,0.5],[-2.6,0.35],[-1.4,0.25],[-1.2,0.15],[1.5,0.9],[2.4,1.1],[1.9,0.65],[1.3,1.2],[0.8,0.05]];
const tss200OrangeCore = [[-0.5,0.9],[-0.2,0.9],[-0.8,1.05],[-0.3,1.05],[-0.9,1.2],[-0.4,1.2],[-0.1,1.2],[-0.8,1.35],[-0.3,1.35],[-0.9,1.5],[-0.4,1.5],[-0.1,1.5],[-0.9,1.65],[-0.4,1.65],[-0.8,1.8],[-0.3,1.8],[-0.5,1.95],[-0.1,1.95],[-0.5,2.1],[-0.1,2.1],[-0.4,2.25]];
const tss200Green = [[-4.1,7.2],[-4.0,5.35],[-3.9,5.1],[-3.9,4.85],[-2.9,3.85],[-6.9,3.2],[-2.8,3.4],[-3.1,3.3],[-4.3,3.1],[-4.7,3.0],[-1.5,3.1],[-2.3,2.7],[-2.1,2.7],[-1.8,2.6],[0.9,2.65],[1.3,2.25],[-5.8,2.05],[-3.6,1.95],[-2.6,2.1],[-1.1,2.25],[-2.2,2.2],[-1.4,1.7],[-1.3,1.6],[-1.7,1.6],[-2.1,1.5],[-1.8,1.45],[-3.1,1.4],[0.9,1.9],[1.3,1.65],[1.0,1.5],[0.8,1.4],[-4.5,1.05],[-2.2,1.05],[-1.4,1.1],[-3.5,0.7],[1.5,0.75],[2.8,0.75],[2.4,0.6],[1.7,0.55],[-1.4,0.85],[-1.5,0.6]];
const tss200BlueCore = [[-0.3,0.03],[0.2,0.03],[-1,0.1],[-0.5,0.1],[0,0.1],[0.5,0.1],[1,0.1],[-1.5,0.18],[-1,0.18],[-0.5,0.18],[0,0.18],[0.5,0.18],[1,0.18],[1.5,0.18],[-1.7,0.26],[-1.2,0.26],[-0.7,0.26],[-0.2,0.26],[0.3,0.26],[0.8,0.26],[1.3,0.26],[-1.7,0.34],[-1.2,0.34],[-0.7,0.34],[-0.2,0.34],[0.3,0.34],[0.8,0.34],[1.3,0.34],[-1.6,0.42],[-1.1,0.42],[-0.6,0.42],[-0.1,0.42],[0.4,0.42],[0.9,0.42],[-1.5,0.5],[-1,0.5],[-0.5,0.5],[0,0.5],[0.5,0.5],[1,0.5],[-1.4,0.58],[-0.9,0.58],[-0.4,0.58],[0.1,0.58],[0.6,0.58],[-1.3,0.66],[-0.8,0.66],[-0.3,0.66],[0.2,0.66],[0.7,0.66],[-1.2,0.74],[-0.7,0.74],[-0.2,0.74],[0.3,0.74],[0.7,0.74],[-1.1,0.82],[-0.6,0.82],[0.1,0.82],[0.5,0.82],[-0.9,0.9],[0.1,0.9],[0.5,0.9],[-1.2,1.0],[0.1,1.0],[0.4,1.0],[0.1,1.1],[0.4,1.1],[0.1,1.2]];
const tss200Blue = [[0.7,3.05],[0.7,2.7],[0.5,2.25],[1.2,2.2],[0.6,2.0],[-1.8,2.35],[-1.7,2.0],[-1.7,1.8],[-5.7,1.75],[-3.0,1.6],[-3.4,1.5],[-2.6,1.5],[-4.3,1.45],[-2.0,1.4],[-1.6,1.25],[-2.3,1.15],[-2.8,1.1],[-1.7,1.05],[-3.4,0.85],[-4.5,0.8],[-4.3,0.75],[-3.8,0.8],[-3.0,0.75],[-2.9,0.5],[-3.4,0.5],[-2.4,0.55],[-3.5,0.15],[-2.8,0.2],[-4.1,0.15],[1.4,0.3],[2.2,0.25],[2.8,0.25],[2.5,0.15],[3.7,0.6],[4.1,0.45],[1.1,0.6],[0.9,0.8],[0.5,1.3],[0.5,1.6],[1.0,1.5],[0.3,1.8]];

// ---------------- rendering ----------------
const NS = "http://www.w3.org/2000/svg";
const svg = document.getElementById("chart");
const COL = {orange:"#E69F00", green:"#009E73", blue:"#0072B2"};

function mk(tag, attrs, parent){
  const e = document.createElementNS(NS, tag);
  for (const k in attrs) e.setAttribute(k, attrs[k]);
  (parent||svg).appendChild(e);
  return e;
}

function drawPanel(p){
  const g = mk("g", {});
  
  
  const xs = v => p.x0 + v * p.ux;
  const ys = v => p.y0 - v * p.uy;
  const grid = mk("g", {}, g);
  
  
  p.yMinor.forEach(v => { const y = ys(v); if (y > p.top) { const l = mk("line",{x1:p.left,x2:p.right,y1:y,y2:y,stroke:"#ebebeb","stroke-width":3},grid);   }});
  xMinor.forEach(v => { const x = xs(v); const l = mk("line",{x1:x,x2:x,y1:p.top,y2:p.bottom,stroke:"#ebebeb","stroke-width":3},grid);   });
  p.yTicks.forEach(v => { const y = ys(v); const l = mk("line",{x1:p.left,x2:p.right,y1:y,y2:y,stroke:"#ebebeb","stroke-width":4},grid);   });
  xTicks.forEach(v => { const x = xs(v); const l = mk("line",{x1:x,x2:x,y1:p.top,y2:p.bottom,stroke:"#ebebeb","stroke-width":4},grid);   });
  p.yTicks.forEach((v,i) => {
    const t = mk("text",{x:p.left-22,y:ys(v)+14,"text-anchor":"end","font-size":39,fill:"#4d4d4d"},g);
    t.textContent = p.yLabels[i];
    
    
  });
  xTicks.forEach((v,i) => {
    const t = mk("text",{x:xs(v),y:p.y0+117,"text-anchor":"middle","font-size":39,fill:"#4d4d4d"},g);
    t.textContent = xTickLabels[i];
    
    
  });
  const cx = (p.left + p.right)/2;
  const tt = mk("text",{x:cx,y:p.y0-1407,"text-anchor":"middle","font-size":56,fill:"#000"},g);
  tt.textContent = p.title;
  
  
  const xt = mk("text",{x:cx,y:p.y0+173,"text-anchor":"middle","font-size":48,fill:"#000"},g);
  xt.textContent = "Quantile Regression Beta";
  
  
  const ymid = (p.top + p.bottom)/2;
  const yt = mk("text",{x:p.ytitleX,y:ymid,"text-anchor":"middle","font-size":48,fill:"#000",transform:`rotate(-90 ${p.ytitleX} ${ymid})`},g);
  yt.textContent = "-log10(pValue)";
  
  
  const series = [["orange",p.orange,6],["orange",p.orangeCore,9],["green",p.green,6],["blue",p.blueCore,9],["blue",p.blue,6]];
  series.forEach(([c, arr, rad]) => {
    const sg = mk("g",{fill:COL[c]},g);
    
    
    arr.forEach(d => {
      const pt = mk("circle",{cx:xs(d[0]).toFixed(1),cy:ys(d[1]).toFixed(1),r:rad},sg);
      
      
    });
  });
  const hy = ys(pThreshold);
  const hl = mk("line",{x1:p.left,x2:p.right,y1:hy,y2:hy,stroke:"#0000ff","stroke-width":5},g);
  
  
  const vx = xs(0);
  const vl = mk("line",{x1:vx,x2:vx,y1:p.top,y2:p.bottom,stroke:"#0000ff","stroke-width":5},g);
  
  
}

const panels = [
  {name:"first-exon", title:"1stExon", x0:676.3, ux:22.33, y0:1505.3, uy:149.4, left:184, right:1168, top:128, bottom:1571, ytitleX:88,
   yTicks:yTicksA, yLabels:yTickLabelsA, yMinor:yMinorA, orange:exonOrange, orangeCore:exonOrangeCore, green:exonGreen, blueCore:exonBlueCore, blue:exonBlue},
  {name:"body", title:"Body", x0:1825.3, ux:23.2, y0:1505.3, uy:172.4, left:1315, right:2336, top:128, bottom:1571, ytitleX:1250,
   yTicks:yTicksB, yLabels:yTickLabelsB, yMinor:yMinorB, orange:bodyOrange, orangeCore:bodyOrangeCore, green:bodyGreen, blueCore:bodyBlueCore, blue:bodyBlue},
  {name:"tss1500", title:"TSS1500", x0:676.3, ux:22.33, y0:3183.3, uy:149.4, left:184, right:1168, top:1806, bottom:3249, ytitleX:88,
   yTicks:yTicksA, yLabels:yTickLabelsA, yMinor:yMinorA, orange:tss1500Orange, orangeCore:tss1500OrangeCore, green:tss1500Green, blueCore:tss1500BlueCore, blue:tss1500Blue},
  {name:"tss200", title:"TSS200", x0:1825.3, ux:23.2, y0:3183.3, uy:182, left:1315, right:2336, top:1806, bottom:3249, ytitleX:1250,
   yTicks:yTicksB, yLabels:yTickLabelsB, yMinor:yMinorB, orange:tss200Orange, orangeCore:tss200OrangeCore, green:tss200Green, blueCore:tss200BlueCore, blue:tss200Blue}
];
panels.forEach(drawPanel);
</script>
</body></html>
